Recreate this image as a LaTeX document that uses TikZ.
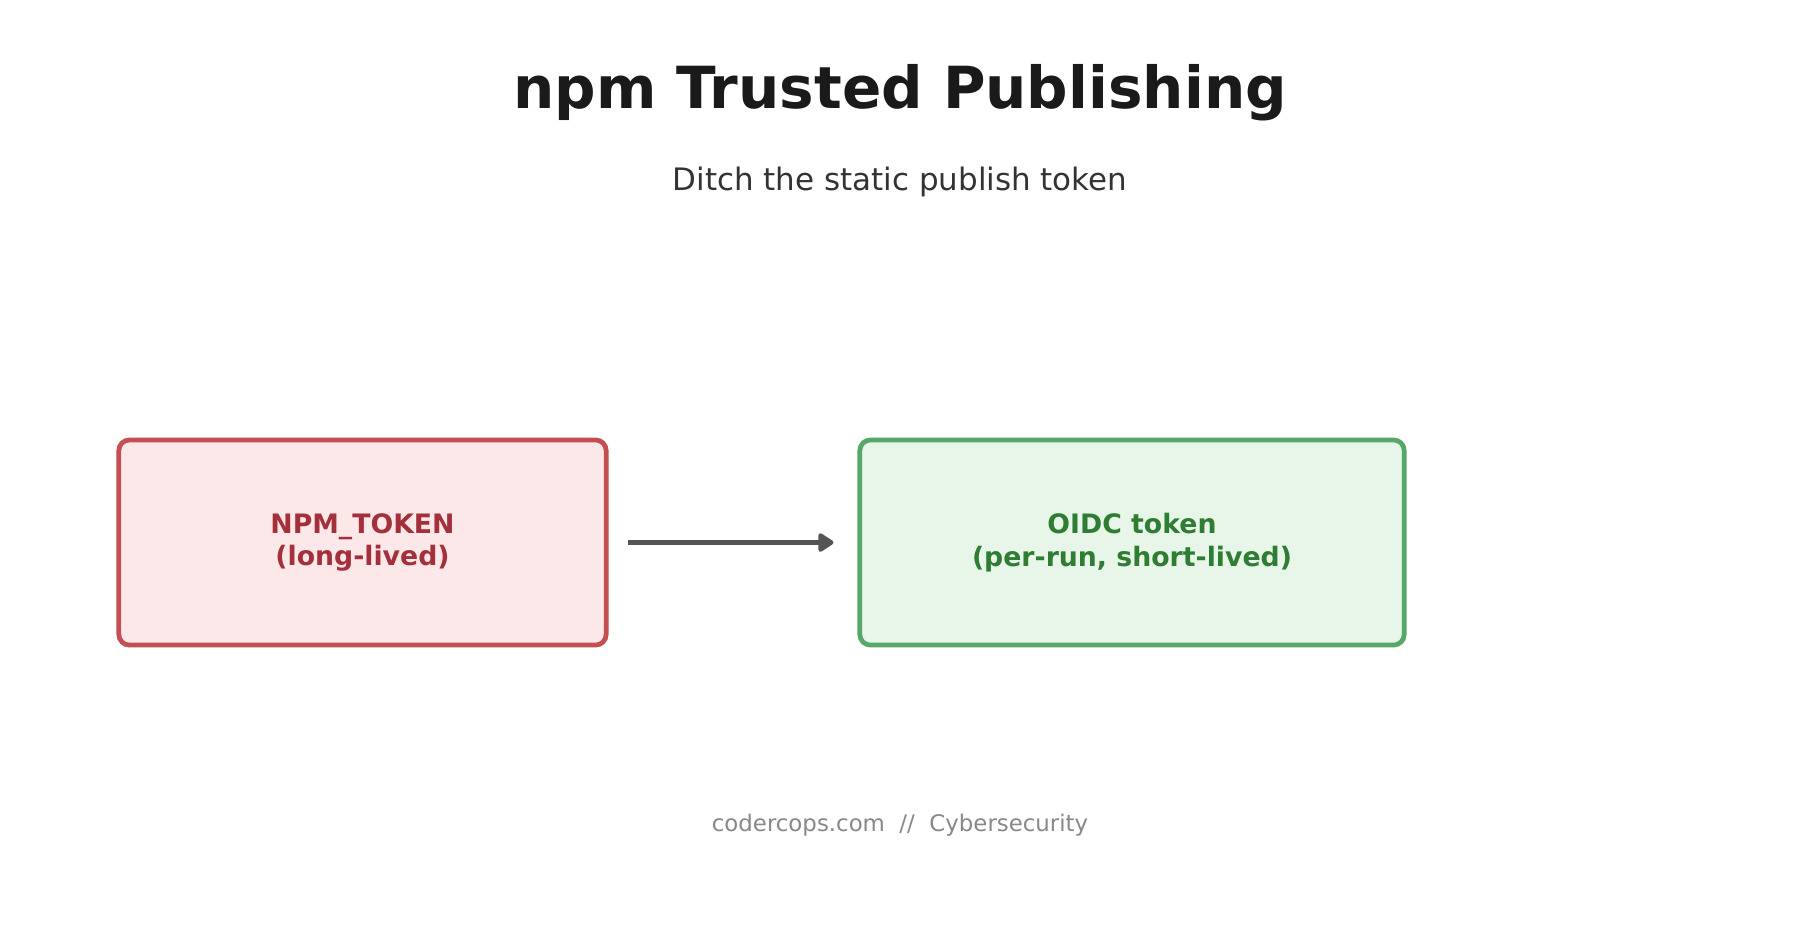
\documentclass[tikz,border=0pt]{standalone}
\usepackage{fontspec}
\setmainfont{DejaVu Sans}
\usetikzlibrary{positioning,arrows.meta}
\definecolor{ttitle}{HTML}{1A1A1A}
\definecolor{tsub}{HTML}{333333}
\definecolor{tfoot}{HTML}{888888}
\definecolor{oldred}{HTML}{C44E52}
\definecolor{oldfill}{HTML}{FCE8E8}
\definecolor{oldtext}{HTML}{A3303A}
\definecolor{newgreen}{HTML}{55A868}
\definecolor{newfill}{HTML}{E8F5E9}
\definecolor{newtext}{HTML}{2E7D32}
\definecolor{flowgray}{HTML}{555555}

\begin{document}
\begin{tikzpicture}[
  x=0.01cm, y=-0.01cm,
  title/.style={font=\fontsize{16.5}{20}\selectfont\bfseries, text=ttitle},
  subtitle/.style={font=\fontsize{8.8}{11}\selectfont, text=tsub},
  tokenbox/.style={rounded corners=3pt, line width=1.35pt, align=center,
                   minimum height=2.05cm, font=\fontsize{7.6}{9.2}\selectfont\bfseries},
  oldtok/.style={tokenbox, draw=oldred, fill=oldfill, text=oldtext, minimum width=4.87cm},
  newtok/.style={tokenbox, draw=newgreen, fill=newfill, text=newtext, minimum width=5.44cm},
  flow/.style={-{Triangle[length=1.7mm, width=2.1mm, round]}, line width=1.5pt,
               draw=flowgray, shorten <=0.19cm, shorten >=0.24cm},
  footer/.style={font=\fontsize{6.5}{8}\selectfont, text=tfoot},
]
% ---- canvas ----
\useasboundingbox (0,0) rectangle (1800,945);
\fill[white] (0,0) rectangle (1800,945);

% ---- heading ----
\node[title]    (head) at (900,93)  {npm Trusted Publishing};
\node[subtitle] (sub)  at (900,182) {Ditch the static publish token};

% ---- token boxes ----
\node[oldtok] (npmtok)  at (362.5,542.5) {NPM\_TOKEN\\(long-lived)};
\node[newtok] (oidctok) at (1132,542.5)  {OIDC token\\(per-run, short-lived)};

% ---- migration arrow ----
\draw[flow] (npmtok) -- (oidctok);

% ---- footer ----
\node[footer] (foot) at (900,825) {codercops.com\ \ //\ \ Cybersecurity};
\end{tikzpicture}
\end{document}
